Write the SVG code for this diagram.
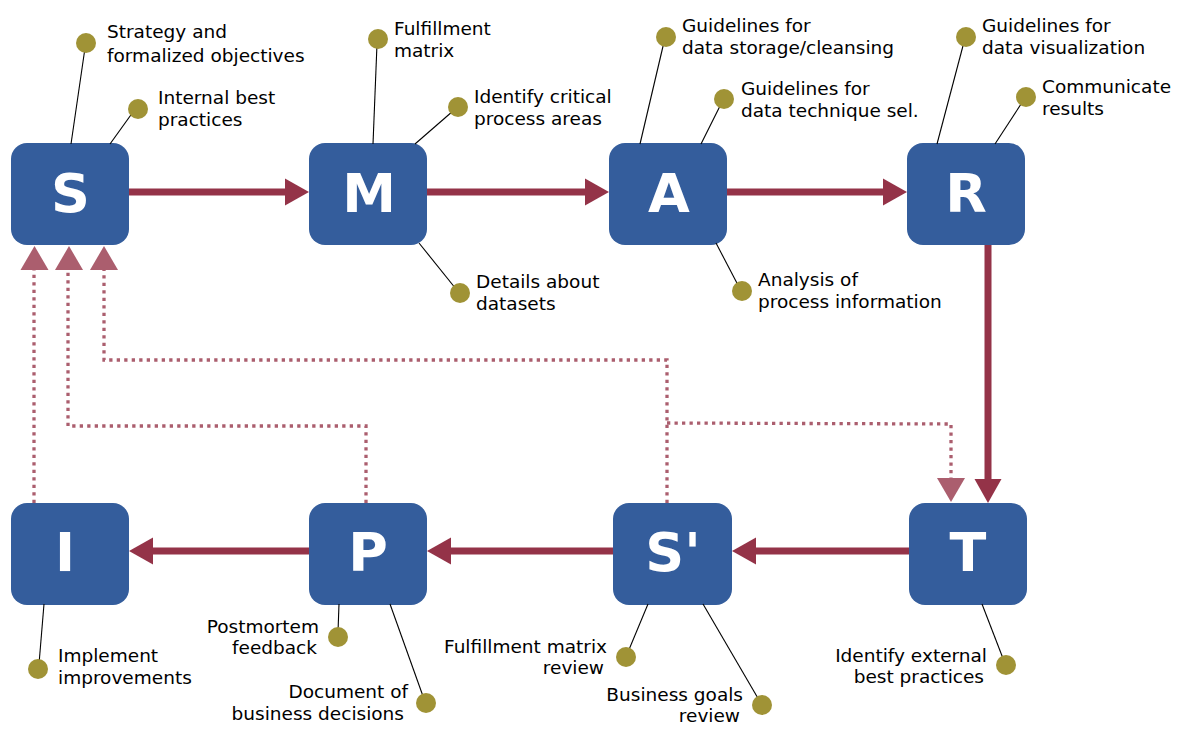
<svg xmlns="http://www.w3.org/2000/svg" width="1179" height="752" viewBox="0 0 1179 752">
<style>
.box{fill:#345d9c}
.let{font-family:"DejaVu Sans",sans-serif;font-weight:bold;font-size:54px;fill:#fff;text-anchor:middle}
.lbl{font-family:"DejaVu Sans",sans-serif;font-size:18.5px;fill:#000}
.end{text-anchor:end}
.pin{fill:#a09336}
.stem{stroke:#000;stroke-width:1.1;fill:none}
.flow{stroke:#943348;stroke-width:7;fill:none}
.head{fill:#943348}
.dot{stroke:#ab5e6e;stroke-width:3.3;stroke-dasharray:3.3 4.2;fill:none}
.dhead{fill:#ab5e6e}
</style>
<rect width="1179" height="752" fill="#fff"/>
<g id="connectors">
<line class="flow" x1="129" y1="192" x2="287" y2="192"/>
<polygon class="head" points="309,192 285,178.5 285,205.5"/>
<line class="flow" x1="427" y1="192" x2="587" y2="192"/>
<polygon class="head" points="609,192 585,178.5 585,205.5"/>
<line class="flow" x1="727" y1="192" x2="885" y2="192"/>
<polygon class="head" points="907,192 883,178.5 883,205.5"/>
<line class="flow" x1="988" y1="245" x2="988" y2="480"/>
<polygon class="head" points="988,503 974.5,479 1001.5,479"/>
<line class="flow" x1="909" y1="551" x2="754" y2="551"/>
<polygon class="head" points="732,551 756,537.5 756,564.5"/>
<line class="flow" x1="613" y1="551" x2="449" y2="551"/>
<polygon class="head" points="427,551 451,537.5 451,564.5"/>
<line class="flow" x1="309" y1="551" x2="151" y2="551"/>
<polygon class="head" points="129,551 153,537.5 153,564.5"/>
<polyline class="dot" points="34,503 34,270"/>
<polygon class="dhead" points="34.5,246 20.5,270 48.5,270"/>
<polyline class="dot" points="366,503 366,426 68,426 68,270"/>
<polygon class="dhead" points="69,246 55,270 83,270"/>
<polyline class="dot" points="667,503 667,360 104,360 104,270"/>
<polygon class="dhead" points="104,246 90,270 118,270"/>
<polyline class="dot" points="667,423 951,424 951,480"/>
<polygon class="dhead" points="951,502 937,478 965,478"/>
</g>
<g id="node-S">
<rect class="box" x="11" y="143" width="118" height="102" rx="16"/>
<text class="let" x="70.5" y="212">S</text>
<line class="stem" x1="85" y1="48" x2="71" y2="144"/>
<circle class="pin" cx="86" cy="43" r="10"/>
<text class="lbl" x="107" y="38">Strategy and</text>
<text class="lbl" x="107" y="62">formalized objectives</text>
<line class="stem" x1="133" y1="112" x2="110" y2="144"/>
<circle class="pin" cx="138" cy="109" r="10"/>
<text class="lbl" x="158" y="103.5">Internal best</text>
<text class="lbl" x="158" y="125.5">practices</text>
</g>
<g id="node-M">
<rect class="box" x="309" y="143" width="118" height="102" rx="16"/>
<text class="let" x="369" y="212">M</text>
<line class="stem" x1="377" y1="44" x2="373" y2="144"/>
<circle class="pin" cx="378" cy="39" r="10"/>
<text class="lbl" x="394" y="35">Fulfillment</text>
<text class="lbl" x="394" y="57">matrix</text>
<line class="stem" x1="453" y1="111" x2="415" y2="144"/>
<circle class="pin" cx="458" cy="107" r="10"/>
<text class="lbl" x="474" y="103">Identify critical</text>
<text class="lbl" x="474" y="125">process areas</text>
<line class="stem" x1="419" y1="243" x2="456" y2="289"/>
<circle class="pin" cx="460" cy="293" r="10"/>
<text class="lbl" x="476" y="288">Details about</text>
<text class="lbl" x="476" y="310">datasets</text>
</g>
<g id="node-A">
<rect class="box" x="609" y="143" width="118" height="102" rx="16"/>
<text class="let" x="669" y="212">A</text>
<line class="stem" x1="664" y1="42" x2="640" y2="144"/>
<circle class="pin" cx="666" cy="37" r="10"/>
<text class="lbl" x="682" y="32">Guidelines for</text>
<text class="lbl" x="682" y="54">data storage/cleansing</text>
<line class="stem" x1="721" y1="104" x2="701" y2="144"/>
<circle class="pin" cx="724" cy="99" r="10"/>
<text class="lbl" x="741" y="95">Guidelines for</text>
<text class="lbl" x="741" y="117">data technique sel.</text>
<line class="stem" x1="716" y1="243" x2="739" y2="287"/>
<circle class="pin" cx="742" cy="291" r="10"/>
<text class="lbl" x="758" y="286">Analysis of</text>
<text class="lbl" x="758" y="308">process information</text>
</g>
<g id="node-R">
<rect class="box" x="907" y="143" width="118" height="102" rx="16"/>
<text class="let" x="966" y="212">R</text>
<line class="stem" x1="964" y1="42" x2="937" y2="144"/>
<circle class="pin" cx="966" cy="37" r="10"/>
<text class="lbl" x="982" y="32">Guidelines for</text>
<text class="lbl" x="982" y="54">data visualization</text>
<line class="stem" x1="1023" y1="101" x2="995" y2="144"/>
<circle class="pin" cx="1026" cy="97" r="10"/>
<text class="lbl" x="1042" y="93">Communicate</text>
<text class="lbl" x="1042" y="115">results</text>
</g>
<g id="node-T">
<rect class="box" x="909" y="503" width="118" height="102" rx="16"/>
<text class="let" x="968" y="571">T</text>
<line class="stem" x1="982" y1="604" x2="1004" y2="661"/>
<circle class="pin" cx="1006" cy="665" r="10"/>
<text class="lbl end" x="987" y="662">Identify external</text>
<text class="lbl end" x="984" y="683">best practices</text>
</g>
<g id="node-S2">
<rect class="box" x="613" y="503" width="119" height="102" rx="16"/>
<text class="let" x="673" y="571">S'</text>
<line class="stem" x1="648" y1="604" x2="628" y2="652"/>
<circle class="pin" cx="626" cy="657" r="10"/>
<text class="lbl end" x="607" y="653">Fulfillment matrix</text>
<text class="lbl end" x="604" y="674">review</text>
<line class="stem" x1="703" y1="604" x2="759" y2="700"/>
<circle class="pin" cx="762" cy="705" r="10"/>
<text class="lbl end" x="743" y="701">Business goals</text>
<text class="lbl end" x="740" y="722">review</text>
</g>
<g id="node-P">
<rect class="box" x="309" y="503" width="118" height="102" rx="16"/>
<text class="let" x="368" y="571">P</text>
<line class="stem" x1="339" y1="604" x2="338" y2="632"/>
<circle class="pin" cx="338" cy="637" r="10"/>
<text class="lbl end" x="319" y="633">Postmortem</text>
<text class="lbl end" x="317" y="654">feedback</text>
<line class="stem" x1="390" y1="604" x2="424" y2="699"/>
<circle class="pin" cx="426" cy="703" r="10"/>
<text class="lbl end" x="408" y="698">Document of</text>
<text class="lbl end" x="404" y="720">business decisions</text>
</g>
<g id="node-I">
<rect class="box" x="11" y="503" width="118" height="102" rx="16"/>
<text class="let" x="65" y="571">I</text>
<line class="stem" x1="44" y1="604" x2="39" y2="664"/>
<circle class="pin" cx="38" cy="669" r="10"/>
<text class="lbl" x="58" y="662">Implement</text>
<text class="lbl" x="58" y="684">improvements</text>
</g>
</svg>
